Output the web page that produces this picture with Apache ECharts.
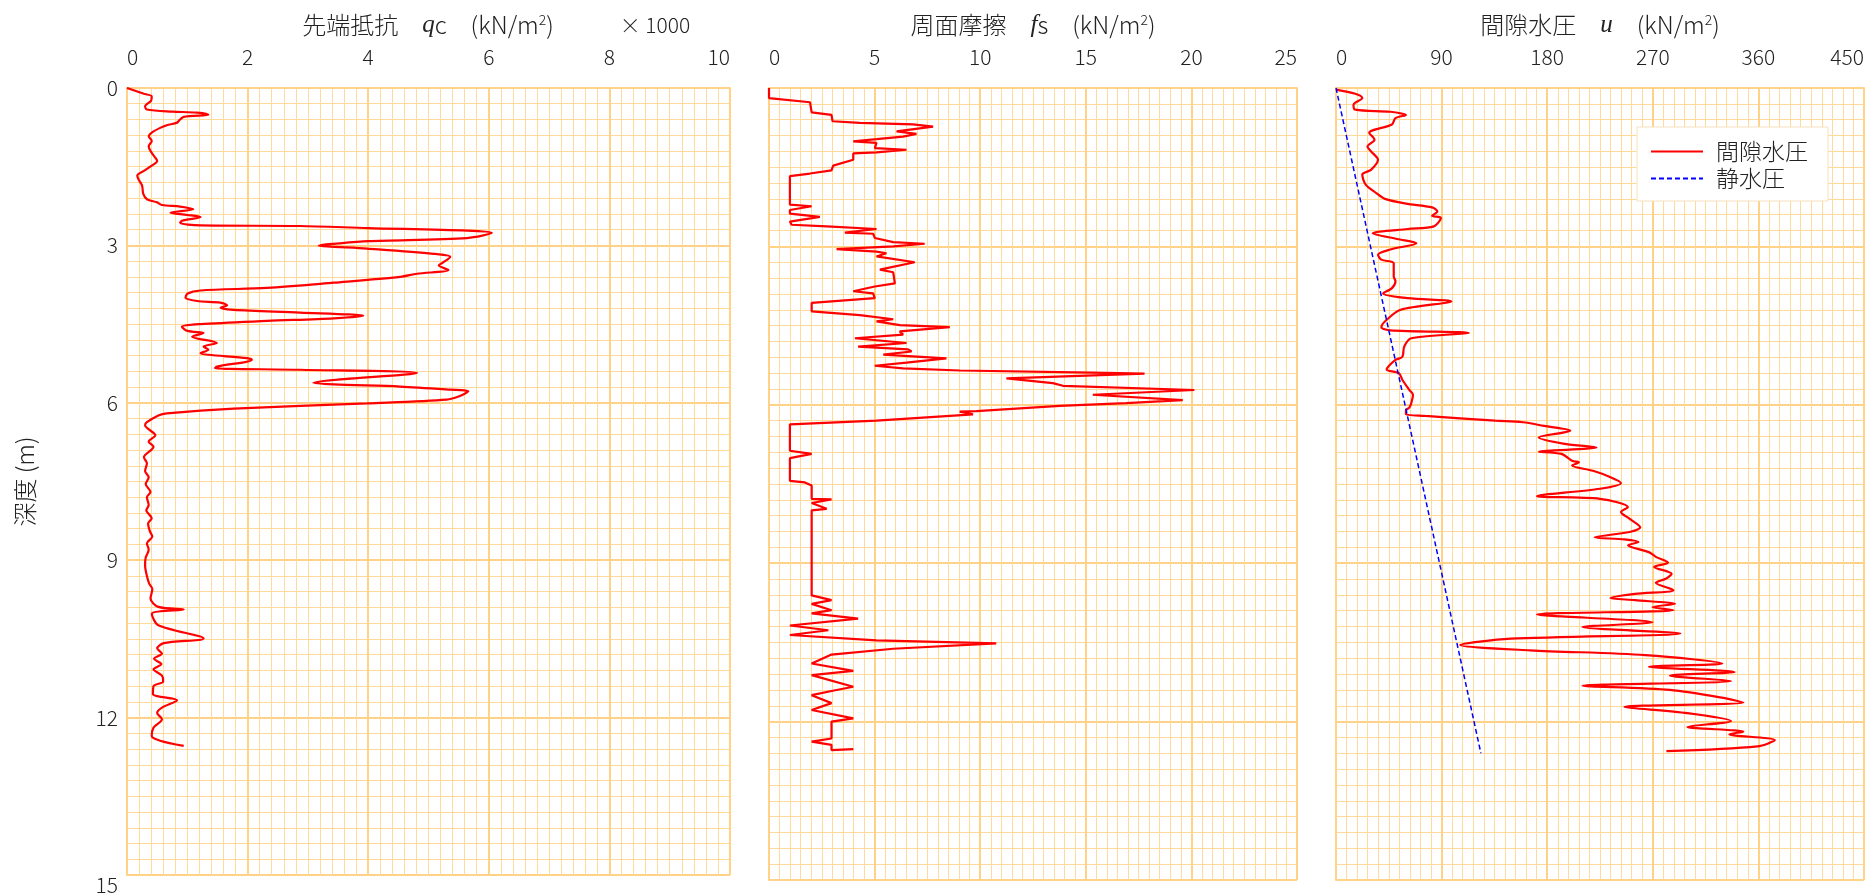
<!DOCTYPE html>
<html>
<head>
<meta charset="utf-8">
<script src="https://cdn.jsdelivr.net/npm/echarts@6/dist/echarts.min.js"></script>
<style>
  html, body { margin: 0; padding: 0; background: #ffffff; }
  #chart { width: 1870px; height: 896px; }
</style>
</head>
<body>
<div id="chart"></div>
<script>
// Cone penetration test profile: tip resistance, sleeve friction, pore pressure vs depth.

// Tip resistance qc (x1000 kN/m2), points as [qc, depth m]
const qcProfile = [
  [0, 0], [0.28, 0.11], [0.41, 0.16], [0.40, 0.24], [0.30, 0.35], [0.33, 0.41], [0.75, 0.45],
  [1.16, 0.47], [1.35, 0.51], [0.94, 0.55], [0.88, 0.60], [0.83, 0.66], [0.66, 0.71], [0.55, 0.76],
  [0.41, 0.85], [0.36, 0.92], [0.41, 1.01], [0.36, 1.11], [0.39, 1.20], [0.47, 1.33], [0.50, 1.39],
  [0.41, 1.48], [0.28, 1.58], [0.17, 1.67], [0.19, 1.74], [0.25, 1.86], [0.27, 2.02], [0.33, 2.12],
  [0.50, 2.18], [0.58, 2.23], [0.88, 2.26], [1.10, 2.31], [0.72, 2.38], [1.00, 2.42], [1.22, 2.46],
  [0.91, 2.53], [0.88, 2.57], [1.22, 2.62], [2.87, 2.63], [4.00, 2.67], [5.64, 2.72], [6.05, 2.76],
  [5.64, 2.86], [4.00, 2.92], [3.43, 2.97], [3.18, 3.00], [3.98, 3.06], [5.08, 3.16], [5.36, 3.22],
  [5.25, 3.32], [5.17, 3.38], [5.33, 3.47], [4.81, 3.54], [4.53, 3.60], [3.43, 3.71], [2.32, 3.81],
  [1.22, 3.86], [1.00, 3.92], [0.97, 4.00], [1.16, 4.06], [1.55, 4.09], [1.66, 4.14], [1.55, 4.19],
  [1.77, 4.23], [2.87, 4.28], [3.92, 4.34], [3.43, 4.39], [2.32, 4.44], [1.22, 4.50], [0.91, 4.55],
  [1.00, 4.63], [1.27, 4.67], [1.08, 4.74], [1.49, 4.86], [1.27, 4.93], [1.35, 4.99], [1.22, 5.05],
  [1.99, 5.15], [2.07, 5.18], [1.49, 5.31], [1.46, 5.34], [2.87, 5.37], [4.81, 5.43], [3.09, 5.62],
  [3.43, 5.65], [4.53, 5.69], [5.36, 5.75], [5.66, 5.78], [5.52, 5.87], [5.30, 5.94], [3.98, 6.01],
  [1.77, 6.11], [0.66, 6.20], [0.52, 6.24], [0.33, 6.37], [0.30, 6.43], [0.47, 6.62], [0.36, 6.74],
  [0.44, 6.84], [0.28, 7.04], [0.33, 7.15], [0.30, 7.30], [0.36, 7.42], [0.31, 7.55], [0.39, 7.70],
  [0.33, 7.80], [0.36, 7.95], [0.32, 8.05], [0.41, 8.20], [0.35, 8.30], [0.38, 8.45], [0.42, 8.55],
  [0.33, 8.68], [0.36, 8.80], [0.31, 8.95], [0.30, 9.10], [0.33, 9.30], [0.37, 9.45], [0.42, 9.55],
  [0.39, 9.73], [0.52, 9.89], [0.94, 9.94], [0.41, 10.02], [0.52, 10.24], [1.27, 10.49], [0.61, 10.58],
  [0.50, 10.68], [0.58, 10.78], [0.45, 10.88], [0.57, 10.98], [0.44, 11.08], [0.58, 11.20], [0.60, 11.31],
  [0.44, 11.40], [0.43, 11.55], [0.83, 11.67], [0.58, 11.81], [0.50, 11.91], [0.58, 12.03], [0.44, 12.19],
  [0.41, 12.35], [0.55, 12.44], [0.94, 12.54]
];

// Sleeve friction fs (kN/m2), points as [fs, depth m]
const fsProfile = [
  [0, 0], [0, 0.19], [1.94, 0.27], [2.02, 0.46], [2.96, 0.51], [3.01, 0.63], [4.30, 0.66], [6.82, 0.69],
  [7.77, 0.73], [6.04, 0.82], [6.98, 0.87], [6.35, 0.92], [5.09, 0.97], [3.99, 1.01], [5.09, 1.04],
  [5.01, 1.14], [6.51, 1.17], [5.09, 1.22], [3.99, 1.24], [3.99, 1.36], [3.04, 1.47], [2.96, 1.56],
  [1.94, 1.62], [0.99, 1.67], [0.99, 2.21], [2.02, 2.24], [0.99, 2.31], [0.99, 2.38], [2.41, 2.44],
  [0.99, 2.53], [1.07, 2.59], [2.73, 2.62], [5.09, 2.67], [3.59, 2.74], [4.93, 2.76], [5.01, 2.84],
  [5.88, 2.92], [7.37, 2.95], [5.88, 3.00], [3.20, 3.05], [5.09, 3.10], [5.56, 3.13], [5.09, 3.19],
  [6.90, 3.30], [5.25, 3.44], [5.88, 3.49], [5.96, 3.70], [5.01, 3.76], [3.99, 3.85], [4.93, 3.89],
  [5.01, 3.98], [2.02, 4.07], [2.02, 4.23], [4.30, 4.30], [5.88, 4.38], [5.09, 4.42], [6.19, 4.49],
  [8.56, 4.53], [6.19, 4.61], [6.35, 4.67], [4.07, 4.74], [6.51, 4.83], [4.22, 4.90], [6.59, 4.95],
  [6.75, 4.99], [5.41, 5.05], [8.40, 5.12], [6.51, 5.20], [5.01, 5.26], [6.35, 5.31], [9.03, 5.35],
  [15.33, 5.39], [17.78, 5.41], [11.24, 5.50], [13.44, 5.59], [13.92, 5.64], [20.14, 5.72], [15.33, 5.81],
  [19.59, 5.91], [16.91, 5.97], [13.76, 6.02], [9.82, 6.12], [9.03, 6.13], [9.66, 6.18], [5.09, 6.30],
  [0.99, 6.37], [0.99, 6.87], [2.02, 6.93], [0.99, 7.01], [0.99, 7.44], [1.70, 7.47], [2.02, 7.53],
  [2.02, 7.78], [2.96, 7.79], [2.02, 7.86], [2.73, 7.97], [2.02, 8.00], [2.02, 9.61], [2.96, 9.70],
  [2.02, 9.77], [2.96, 9.89], [2.02, 9.95], [4.22, 10.05], [0.99, 10.18], [2.81, 10.27], [0.99, 10.36],
  [5.09, 10.46], [10.76, 10.52], [5.88, 10.62], [2.96, 10.73], [2.02, 10.90], [3.99, 11.04], [2.02, 11.12],
  [3.99, 11.34], [2.96, 11.42], [2.02, 11.50], [2.96, 11.65], [2.02, 11.78], [3.99, 11.94], [2.96, 12.00],
  [2.96, 12.32], [2.02, 12.38], [2.96, 12.44], [2.96, 12.54], [3.99, 12.52]
];

// Pore water pressure u (kN/m2), points as [u, depth m]
const uProfile = [
  [0, 0.03], [16.4, 0.11], [22.4, 0.19], [14.9, 0.32], [16.4, 0.41], [46.2, 0.45], [59.6, 0.51],
  [50.7, 0.57], [47.7, 0.69], [28.3, 0.85], [32.8, 0.98], [26.8, 1.11], [29.8, 1.20], [35.8, 1.36],
  [29.8, 1.55], [22.4, 1.64], [25.3, 1.83], [34.3, 1.99], [41.7, 2.10], [59.6, 2.19], [81.9, 2.26],
  [86.4, 2.34], [81.9, 2.42], [89.4, 2.46], [83.4, 2.62], [61.1, 2.67], [31.3, 2.75], [52.2, 2.86],
  [68.5, 2.94], [46.2, 3.06], [35.8, 3.16], [38.7, 3.25], [49.2, 3.32], [49.2, 3.57], [50.7, 3.66],
  [47.7, 3.79], [40.2, 3.89], [61.1, 3.98], [98.3, 4.04], [55.1, 4.20], [43.2, 4.39], [38.7, 4.53],
  [46.2, 4.59], [113.2, 4.64], [64.1, 4.74], [58.1, 4.90], [56.6, 5.09], [50.7, 5.15], [43.2, 5.33],
  [53.6, 5.40], [56.6, 5.53], [62.6, 5.72], [65.6, 5.81], [64.1, 5.97], [62.6, 6.05], [59.6, 6.11],
  [59.6, 6.18], [76.0, 6.21], [135.6, 6.30], [159.4, 6.33], [177.3, 6.40], [199.7, 6.49], [172.8, 6.62],
  [195.2, 6.74], [222.0, 6.81], [172.8, 6.89], [192.2, 6.93], [201.2, 7.06], [207.1, 7.09], [201.2, 7.15],
  [219.0, 7.25], [233.9, 7.37], [242.9, 7.48], [225.0, 7.59], [171.4, 7.73], [225.0, 7.78], [248.8, 7.94],
  [242.9, 8.03], [250.3, 8.16], [259.3, 8.32], [250.3, 8.41], [220.5, 8.51], [245.8, 8.55], [257.8, 8.60],
  [248.8, 8.66], [266.6, 8.79], [272.6, 8.88], [283.0, 8.99], [271.2, 9.07], [286.0, 9.20], [281.5, 9.29],
  [272.6, 9.37], [287.6, 9.51], [254.8, 9.58], [233.9, 9.66], [254.8, 9.70], [289.0, 9.77], [269.7, 9.83],
  [287.6, 9.89], [171.4, 9.97], [269.7, 10.12], [210.1, 10.21], [293.5, 10.33], [149.0, 10.43],
  [105.8, 10.55], [165.4, 10.65], [263.7, 10.74], [329.3, 10.90], [266.6, 10.96], [339.7, 11.06],
  [284.6, 11.13], [336.7, 11.23], [210.1, 11.32], [284.6, 11.40], [332.3, 11.56], [347.2, 11.64],
  [245.8, 11.72], [299.5, 11.84], [336.7, 11.99], [299.5, 12.10], [347.2, 12.19], [335.2, 12.24],
  [374.0, 12.35], [359.1, 12.47], [281.6, 12.56]
];

// Hydrostatic pressure line, [u, depth m]
const hydroProfile = [[0, 0], [123.5, 12.6]];

// Axis ranges and tick steps
const qcRange = { max: 10, step: 2 };
const fsRange = { max: 25, step: 5 };
const uRange = { max: 450, step: 90 };
const depthRange = { max: 15, step: 3 };

const FONT = '"Noto Sans CJK JP", "Noto Sans", sans-serif';
const TEXT = '#222222';
const MAJOR = '#FFD287';
const MINOR = '#FFDA9A';

const grids = [
  { left: 127, top: 88, width: 603, height: 792 },
  { left: 769, top: 88, width: 528, height: 792 },
  { left: 1336, top: 88, width: 528, height: 792 }
];

function xAxisFor(gridIndex, range) {
  return {
    type: 'value', gridIndex, position: 'top', min: 0, max: range.max, interval: range.step,
    axisLine: { show: true, onZero: false, lineStyle: { color: MAJOR, width: 2 } },
    axisTick: { show: false },
    minorTick: { show: false, splitNumber: 10 },
    splitLine: { show: true, lineStyle: { color: MAJOR, width: 2 } },
    minorSplitLine: { show: true, lineStyle: { color: MINOR, width: 1 } },
    axisLabel: {
      show: true, margin: 20, fontSize: 21, color: TEXT, fontFamily: FONT, fontWeight: 300,
      alignMinLabel: 'left', alignMaxLabel: 'right'
    }
  };
}

function yAxisFor(gridIndex, withLabels) {
  const axis = {
    type: 'value', gridIndex, inverse: true, min: 0, max: depthRange.max, interval: depthRange.step,
    axisLine: { show: true, onZero: false, lineStyle: { color: MAJOR, width: 2 } },
    axisTick: { show: false },
    minorTick: { show: false, splitNumber: 10 },
    splitLine: { show: true, lineStyle: { color: MAJOR, width: 2 } },
    minorSplitLine: { show: true, lineStyle: { color: MINOR, width: 1 } },
    axisLabel: {
      show: withLabels, margin: 9, fontSize: 21, color: TEXT, fontFamily: FONT, fontWeight: 300,
      verticalAlignMaxLabel: 'top'
    }
  };
  if (withLabels) {
    axis.name = '深度 (m)';
    axis.nameLocation = 'middle';
    axis.nameRotate = 90;
    axis.nameGap = 90;
    axis.nameTextStyle = { fontSize: 24, color: TEXT, fontFamily: FONT, fontWeight: 300 };
  }
  return axis;
}

const richTitle = {
  i: { fontFamily: '"Liberation Serif", serif', fontStyle: 'italic', fontSize: 25, color: TEXT },
  s: { fontFamily: FONT, fontSize: 14, color: TEXT, verticalAlign: 'top', fontWeight: 300 }
};

function titleText(x, text) {
  return {
    type: 'text', x, y: 25,
    style: {
      text, align: 'center', verticalAlign: 'middle',
      fontSize: 24, fontFamily: FONT, fontWeight: 300, fill: TEXT, rich: richTitle
    }
  };
}

const redLine = { color: '#FF0000', width: 2.2 };

const chart = echarts.init(document.getElementById('chart'), null, { renderer: 'canvas' });
chart.setOption({
  animation: false,
  backgroundColor: '#ffffff',
  grid: grids,
  xAxis: [xAxisFor(0, qcRange), xAxisFor(1, fsRange), xAxisFor(2, uRange)],
  yAxis: [yAxisFor(0, true), yAxisFor(1, false), yAxisFor(2, false)],
  graphic: [
    titleText(428, '先端抵抗\u3000{i|q}c\u3000(kN/m{s|2})'),
    titleText(1033, '周面摩擦\u3000{i|f}s\u3000(kN/m{s|2})'),
    titleText(1600, '間隙水圧\u3000{i|u}\u3000(kN/m{s|2})'),
    {
      type: 'text', x: 655, y: 25,
      style: { text: '× 1000', align: 'center', verticalAlign: 'middle', fontSize: 21, fontFamily: FONT, fontWeight: 300, fill: TEXT }
    }
  ],
  legend: {
    data: ['間隙水圧', '静水圧'],
    orient: 'vertical', left: 1637, top: 127,
    padding: [13, 20, 11, 13], itemGap: 4, itemWidth: 52, itemHeight: 14,
    backgroundColor: '#ffffff', borderColor: '#F7E1BE', borderWidth: 1,
    itemStyle: { color: 'rgba(0,0,0,0)', borderColor: 'rgba(0,0,0,0)', borderWidth: 0 },
    textStyle: { fontSize: 23, color: TEXT, fontFamily: FONT, fontWeight: 300, padding: [0, 0, 0, 8] }
  },
  series: [
    {
      name: '先端抵抗', type: 'line', xAxisIndex: 0, yAxisIndex: 0, data: qcProfile,
      symbol: 'none', smooth: 0.3, lineStyle: redLine, itemStyle: { color: '#FF0000' }
    },
    {
      name: '周面摩擦', type: 'line', xAxisIndex: 1, yAxisIndex: 1, data: fsProfile,
      symbol: 'none', smooth: false, lineStyle: redLine, itemStyle: { color: '#FF0000' }
    },
    {
      name: '間隙水圧', type: 'line', xAxisIndex: 2, yAxisIndex: 2, data: uProfile,
      symbol: 'none', smooth: 0.3, lineStyle: redLine, itemStyle: { color: '#FF0000' }
    },
    {
      name: '静水圧', type: 'line', xAxisIndex: 2, yAxisIndex: 2, data: hydroProfile,
      symbol: 'none', lineStyle: { color: '#0000FF', width: 1.5, type: [5, 3] }, itemStyle: { color: '#0000FF' }
    }
  ]
});
</script>
</body>
</html>
